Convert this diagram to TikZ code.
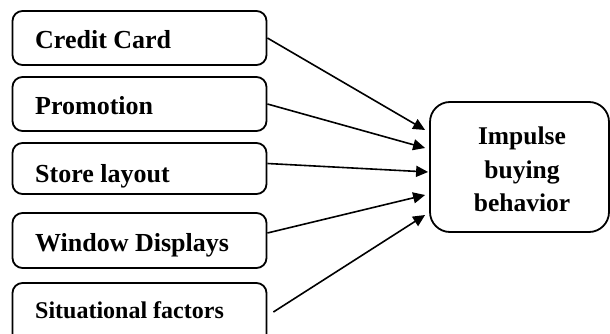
\documentclass[tikz,border=0pt]{standalone}
\usepackage{fontspec}
\setmainfont{Liberation Serif}
\usetikzlibrary{arrows.meta}
\begin{document}
\begin{tikzpicture}[x=1pt,y=-1pt,
  box/.style={draw,line width=1.8pt,rounded corners=10pt,inner sep=0pt,minimum width=254pt},
  lbl/.style={anchor=base west,inner sep=0pt,font=\bfseries\fontsize{26}{30}\selectfont},
  conn/.style={line width=1.6pt,-{Triangle[length=12pt,width=11pt]}}]
\clip (0,0) rectangle (610,334);
% source boxes
\node[box,minimum height=54pt] (c1) at (139.5,38) {};
\node[box,minimum height=54pt] (c2) at (139.5,104) {};
\node[box,minimum height=51pt] (c3) at (139.5,168.5) {};
\node[box,minimum height=55pt] (c4) at (139.5,240.5) {};
\node[box,minimum height=62pt] (c5) at (139.5,314) {};
\node[lbl] (t1) at (35,49) {Credit Card};
\node[lbl] (t2) at (35,115) {Promotion};
\node[lbl] (t3) at (35,182) {Store layout};
\node[lbl] (t4) at (35,251) {Window Displays};
\node[lbl,font=\bfseries\fontsize{24}{28}\selectfont] (t5) at (35,318) {Situational factors};
% target box
\node[box,rounded corners=20pt,minimum width=179pt,minimum height=130pt] (ib) at (519.5,167) {};
\node[inner sep=0pt,align=center,font=\bfseries\fontsize{25.5}{33.5}\selectfont] (tib) at (522,169.6) {Impulse\\buying\\behavior};
% connector ends
\coordinate (s3) at ([yshift=5pt]c3.east);
\coordinate (s4) at ([yshift=7.5pt]c4.east);
\coordinate (s5) at ([xshift=6pt,yshift=2pt]c5.east);
\coordinate (e1) at ([xshift=-4pt,yshift=37pt]ib.west);
\coordinate (e2) at ([xshift=-4pt,yshift=19pt]ib.west);
\coordinate (e3) at ([xshift=-1pt,yshift=-5pt]ib.west);
\coordinate (e4) at ([xshift=-4pt,yshift=-28pt]ib.west);
\coordinate (e5) at ([xshift=-4pt,yshift=-48pt]ib.west);
\draw[conn] (c1.east) -- (e1);
\draw[conn] (c2.east) -- (e2);
\draw[conn] (s3) -- (e3);
\draw[conn] (s4) -- (e4);
\draw[conn] (s5) -- (e5);
\end{tikzpicture}
\end{document}
